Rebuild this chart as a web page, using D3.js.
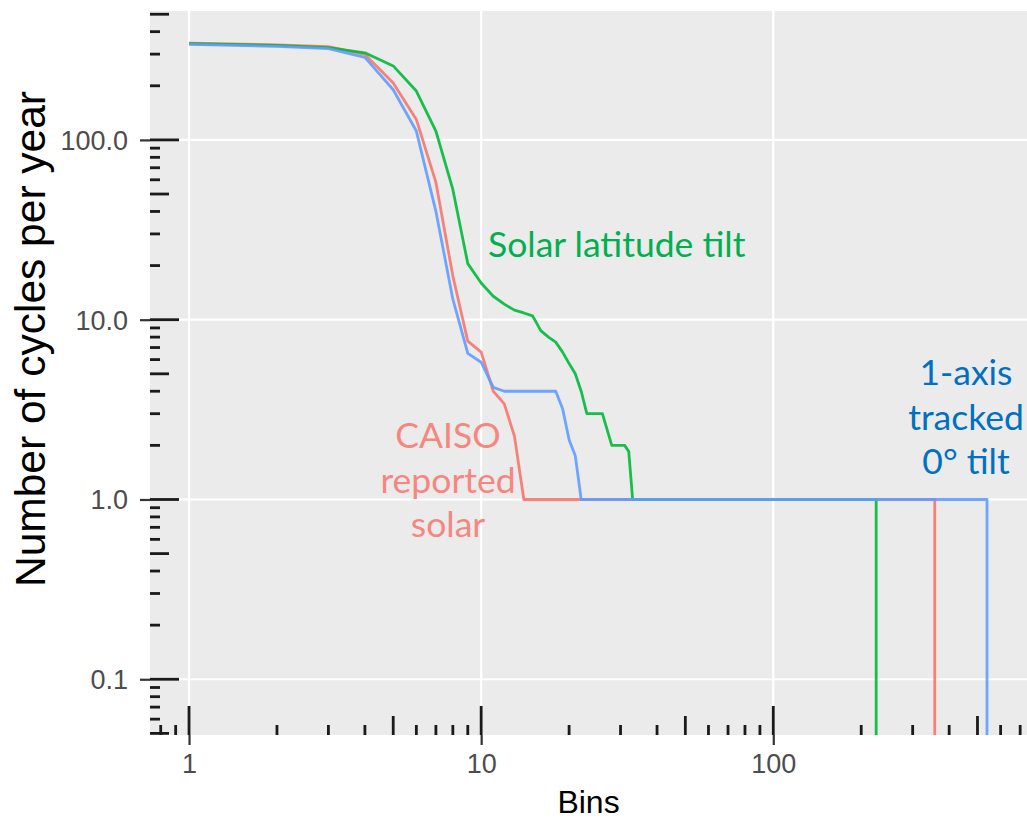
<!DOCTYPE html>
<html>
<head>
<meta charset="utf-8">
<title>Cycles per year by bin</title>
<script src="https://cdn.jsdelivr.net/npm/d3@7"></script>
<style>
  html, body { margin: 0; padding: 0; background: #fff; overflow: hidden; }
  svg { display: block; }
  text { font-family: "Liberation Sans", Arial, sans-serif; }
</style>
</head>
<body>
<svg width="1027" height="820" id="mainsvg"></svg>
<script>
  // values: bin -> cycles per year (0 = drops out of the panel)
  const caisoBins   = [1, 2, 3, 4, 5, 6, 7, 8, 9, 10, 11, 12, 13, 14, 357, 357];
  const caisoValues = [345, 338, 330, 299, 207, 130, 58, 17.5, 7.6, 6.6, 4.0, 3.4, 2.25, 1, 1, 0];

  const tiltBins   = [1, 2, 3, 4, 5, 6, 7, 8, 9, 10, 11, 12, 13, 14, 15, 16, 17, 18, 19, 20, 21, 22, 23, 26, 28, 31, 32, 33, 225, 225];
  const tiltValues = [343, 336, 326, 305, 258, 187, 112, 53, 20.5, 16, 13.5, 12.2, 11.3, 10.9, 10.5, 8.7, 8, 7.5, 6.6, 5.7, 5, 4, 3, 3, 2, 2, 1.85, 1, 1, 0];

  const trackedBins   = [1, 2, 3, 4, 5, 6, 7, 8, 9, 10, 11, 12, 18, 19, 20, 21, 22, 539, 539];
  const trackedValues = [340, 331, 322, 288, 190, 112, 40, 13, 6.5, 5.8, 4.2, 4, 4, 3.2, 2.15, 1.75, 1, 1, 0];

  const xTickValues = [1, 10, 100];
  const yTickValues = [0.1, 1, 10, 100];

  const series = [
    { bins: caisoBins, values: caisoValues, color: '#F8766D' },
    { bins: tiltBins, values: tiltValues, color: '#00BA38' },
    { bins: trackedBins, values: trackedValues, color: '#619CFF' }
  ];

  const svg = d3.select('svg');
  const width = +svg.attr('width');
  const height = +svg.attr('height');
  const margin = { top: 11, right: 0, bottom: 85, left: 150 };
  const innerWidth = width - margin.left - margin.right;
  const innerHeight = height - margin.top - margin.bottom;

  const xScale = d3.scaleLog()
    .domain([Math.pow(10, -0.1336), Math.pow(10, 2.8685)])
    .range([0, innerWidth]);
  // clamp: a count of 0 lands on the bottom edge of the panel, like ggplot's -Inf
  const yScale = d3.scaleLog()
    .domain([Math.pow(10, -1.31), Math.pow(10, 2.717)])
    .range([innerHeight, 0])
    .clamp(true);

  const g = svg.append('g')
    .attr('transform', `translate(${margin.left}, ${margin.top})`);

  g.append('rect')
    .attr('width', innerWidth)
    .attr('height', innerHeight)
    .attr('fill', '#EBEBEB');

  // major grid
  g.append('g').selectAll('line').data(xTickValues).join('line')
    .attr('x1', d => xScale(d)).attr('x2', d => xScale(d))
    .attr('y1', 0).attr('y2', innerHeight)
    .attr('stroke', '#fff').attr('stroke-width', 2.2);
  g.append('g').selectAll('line').data(yTickValues).join('line')
    .attr('y1', d => yScale(d)).attr('y2', d => yScale(d))
    .attr('x1', 0).attr('x2', innerWidth)
    .attr('stroke', '#fff').attr('stroke-width', 2.2);

  // log ticks inside the panel (long at 1, mid at 5, short otherwise)
  const logTicks = domain => {
    const out = [];
    for (let e = -3; e <= 3; e++) {
      for (let k = 1; k <= 9; k++) {
        const v = k * Math.pow(10, e);
        if (v >= domain[0] && v <= domain[1]) out.push({ v, k });
      }
    }
    return out;
  };
  const tickLen = k => k === 1 ? 29 : (k === 5 ? 19 : 10);

  g.append('g').selectAll('line').data(logTicks(yScale.domain())).join('line')
    .attr('x1', 0).attr('x2', d => tickLen(d.k))
    .attr('y1', d => yScale(d.v)).attr('y2', d => yScale(d.v))
    .attr('stroke', '#1a1a1a').attr('stroke-width', 2.8);
  g.append('g').selectAll('line').data(logTicks(xScale.domain())).join('line')
    .attr('y1', innerHeight).attr('y2', d => innerHeight - tickLen(d.k))
    .attr('x1', d => xScale(d.v)).attr('x2', d => xScale(d.v))
    .attr('stroke', '#1a1a1a').attr('stroke-width', 2.8);

  // lines
  const line = d3.line()
    .x(d => xScale(d[0]))
    .y(d => yScale(d[1]));
  g.append('g')
    .selectAll('path').data(series).join('path')
    .attr('d', s => line(s.bins.map((b, i) => [b, s.values[i]])))
    .attr('fill', 'none')
    .attr('stroke', s => s.color)
    .attr('stroke-width', 2.8)
    .attr('stroke-linejoin', 'round')
    .attr('opacity', 0.9);

  // axes (labels positioned without em offsets)
  const yAxis = d3.axisLeft(yScale)
    .tickValues(yTickValues)
    .tickFormat(d3.format('.1f'))
    .tickSize(10)
    .tickPadding(12);
  const yAxisGroup = g.append('g').attr('class', 'y-axis').call(yAxis);
  yAxisGroup.select('.domain').remove();
  yAxisGroup.selectAll('.tick text').attr('dy', null).attr('y', 9.5);

  const xAxis = d3.axisBottom(xScale)
    .tickValues(xTickValues)
    .tickFormat(d3.format('d'))
    .tickSize(10)
    .tickPadding(9);
  const xAxisGroup = g.append('g')
    .attr('class', 'x-axis')
    .attr('transform', `translate(0, ${innerHeight})`)
    .call(xAxis);
  xAxisGroup.select('.domain').remove();
  xAxisGroup.selectAll('.tick text').attr('dy', null).attr('y', 38);

  g.selectAll('.tick line').attr('stroke', '#333').attr('stroke-width', 2.2);
  g.selectAll('.tick text')
    .attr('fill', '#4D4D4D')
    .attr('font-size', '27px')
    .attr('font-family', '"Liberation Sans", Arial, sans-serif');

  svg.append('text')
    .attr('x', margin.left + innerWidth / 2)
    .attr('y', 813)
    .attr('text-anchor', 'middle')
    .attr('font-size', '32px')
    .attr('fill', '#000')
    .text('Bins');

  svg.append('text')
    .attr('transform', 'translate(45, 339) rotate(-90)')
    .attr('text-anchor', 'middle')
    .attr('font-size', '42.5px')
    .attr('fill', '#000')
    .text('Number of cycles per year');

  // annotations, one text element per line
  const labels = [
    { lines: ['Solar latitude tilt'], x: 488, y: 257, anchor: 'start', color: '#00B050' },
    { lines: ['1-axis', 'tracked', '0\u00B0 tilt'], x: 966, y: 385, anchor: 'middle', color: '#0070C0' },
    { lines: ['CAISO', 'reported', 'solar'], x: 448, y: 448, anchor: 'middle', color: '#F6877F' }
  ];
  labels.forEach(l => {
    l.lines.forEach((s, i) => {
      svg.append('text')
        .attr('x', l.x)
        .attr('y', l.y + i * 44.5)
        .attr('text-anchor', l.anchor)
        .attr('fill', l.color)
        .attr('font-size', '35.5px')
        .style('font-family', 'Lato, "Open Sans", sans-serif')
        .text(s);
    });
  });
</script>
</body>
</html>
